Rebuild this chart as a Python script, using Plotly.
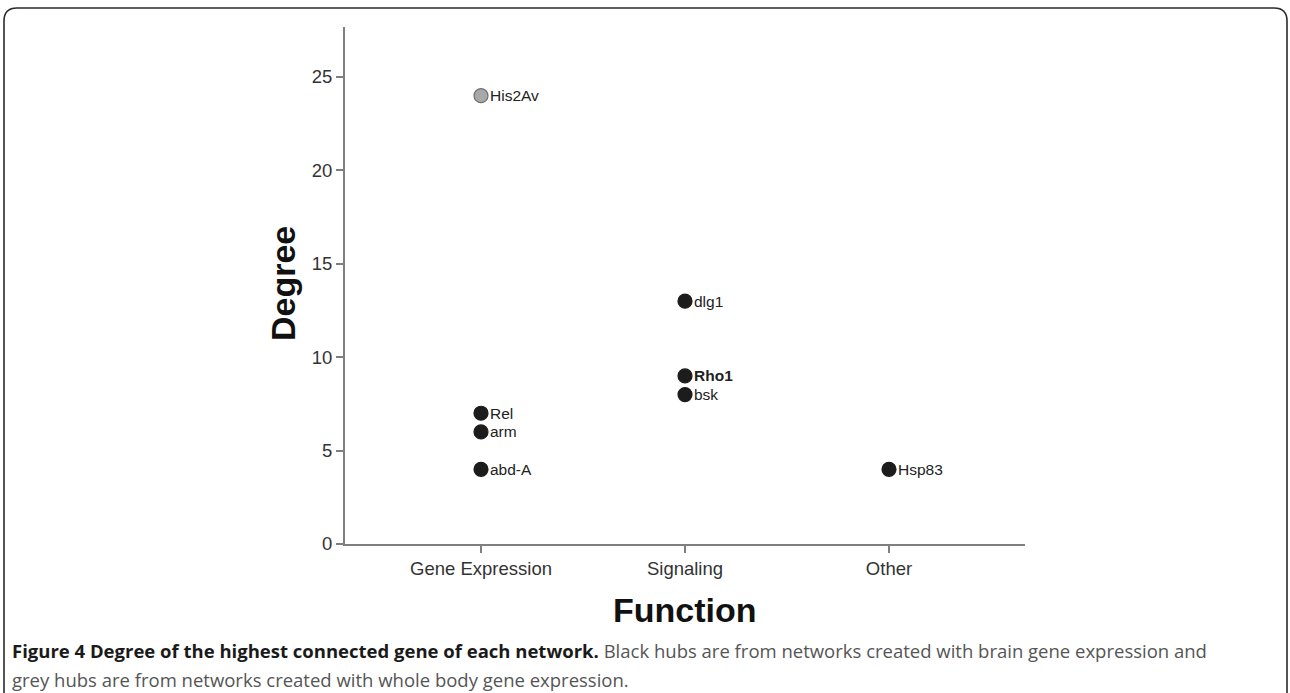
import plotly.graph_objects as go

# ---- data ----
categories = ["Gene Expression", "Signaling", "Other"]
genes = ["His2Av", "Rel", "arm", "abd-A", "dlg1", "Rho1", "bsk", "Hsp83"]
gene_category = ["Gene Expression", "Gene Expression", "Gene Expression", "Gene Expression",
                 "Signaling", "Signaling", "Signaling", "Other"]
degree = [24, 7, 6, 4, 13, 9, 8, 4]
source = ["whole body", "brain", "brain", "brain", "brain", "brain", "brain", "brain"]
y_ticks = [0, 5, 10, 15, 20, 25]

W, H = 1290, 693
L, R, T, B = 345, 1025, 27, 544  # plot area pixel box


def px(x):
    return (x - L) / (R - L)


def py(y):
    return (B - y) / (B - T)


cat_pos = {c: i + 1 for i, c in enumerate(categories)}
FONT = "Liberation Sans, Arial"

fig = go.Figure()
for src, fill, edge in [("brain", "#1c1c1c", "#1c1c1c"), ("whole body", "#a8a8a8", "#707070")]:
    xs, ys = [], []
    for g, c, d, s in zip(genes, gene_category, degree, source):
        if s == src:
            xs.append(cat_pos[c])
            ys.append(d)
    fig.add_trace(go.Scatter(
        x=xs, y=ys, mode="markers",
        marker=dict(size=14, color=fill, line=dict(color=edge, width=1.2)),
        showlegend=False, cliponaxis=False, hoverinfo="skip"))

# point labels
for g, c, d in zip(genes, gene_category, degree):
    fig.add_annotation(x=cat_pos[c], y=d, xref="x", yref="y",
                       text=("<b>%s</b>" % g if g == "Rho1" else g),
                       xanchor="left", yanchor="middle", xshift=7, showarrow=False,
                       font=dict(family=FONT, size=15.5, color="#222"))

axis_common = dict(showline=True, linecolor="#7f7f7f", linewidth=2, ticks="outside",
                   ticklen=7, tickcolor="#7f7f7f", tickwidth=1.5, showgrid=False,
                   zeroline=False, tickfont=dict(family=FONT, size=18.5, color="#333"))

fig.update_layout(
    width=W, height=H, paper_bgcolor="white", plot_bgcolor="white",
    margin=dict(l=L, r=W - R, t=T, b=H - B, pad=0),
    xaxis=dict(range=[1 / 3, 11 / 3], tickvals=[1, 2, 3], ticktext=categories, **axis_common),
    yaxis=dict(range=[0, (B - T) / ((B - 77) / 25)], tickvals=y_ticks, **axis_common),
)

# frame with rounded top corners, open at bottom
x0, x1, y0, r = 4, 1287, 8, 13
path = (f"M {px(x0)},{py(H + 5)} L {px(x0)},{py(y0 + r)} "
        f"Q {px(x0)},{py(y0)} {px(x0 + r)},{py(y0)} "
        f"L {px(x1 - r)},{py(y0)} Q {px(x1)},{py(y0)} {px(x1)},{py(y0 + r)} "
        f"L {px(x1)},{py(H + 5)}")
fig.add_shape(type="path", path=path, xref="paper", yref="paper",
              line=dict(color="#2b2b2b", width=1.6))

# axis titles
fig.add_annotation(text="<b>Degree</b>", x=px(283), y=py(284), xref="paper", yref="paper",
                   xanchor="center", yanchor="middle", textangle=-90, showarrow=False,
                   font=dict(family=FONT, size=34, color="#111"))
fig.add_annotation(text="<b>Function</b>", x=px(685), y=py(610), xref="paper", yref="paper",
                   xanchor="center", yanchor="middle", showarrow=False,
                   font=dict(family=FONT, size=34, color="#111"))

# caption
cap_font = dict(family="Open Sans", size=18.5, color="#555555")
fig.add_annotation(
    text=("<b><span style='color:#1a1a1a'>Figure 4 Degree of the highest connected gene of each network.</span></b>"
          " Black hubs are from networks created with brain gene expression and"),
    x=px(10), y=py(650), xref="paper", yref="paper", xanchor="left", yanchor="middle",
    showarrow=False, font=cap_font)
fig.add_annotation(
    text="grey hubs are from networks created with whole body gene expression.",
    x=px(10), y=py(679), xref="paper", yref="paper", xanchor="left", yanchor="middle",
    showarrow=False, font=cap_font)

fig.write_html("out.html", config={"displayModeBar": False},
               post_script="document.body.style.margin='0';document.body.style.overflow='hidden';")
